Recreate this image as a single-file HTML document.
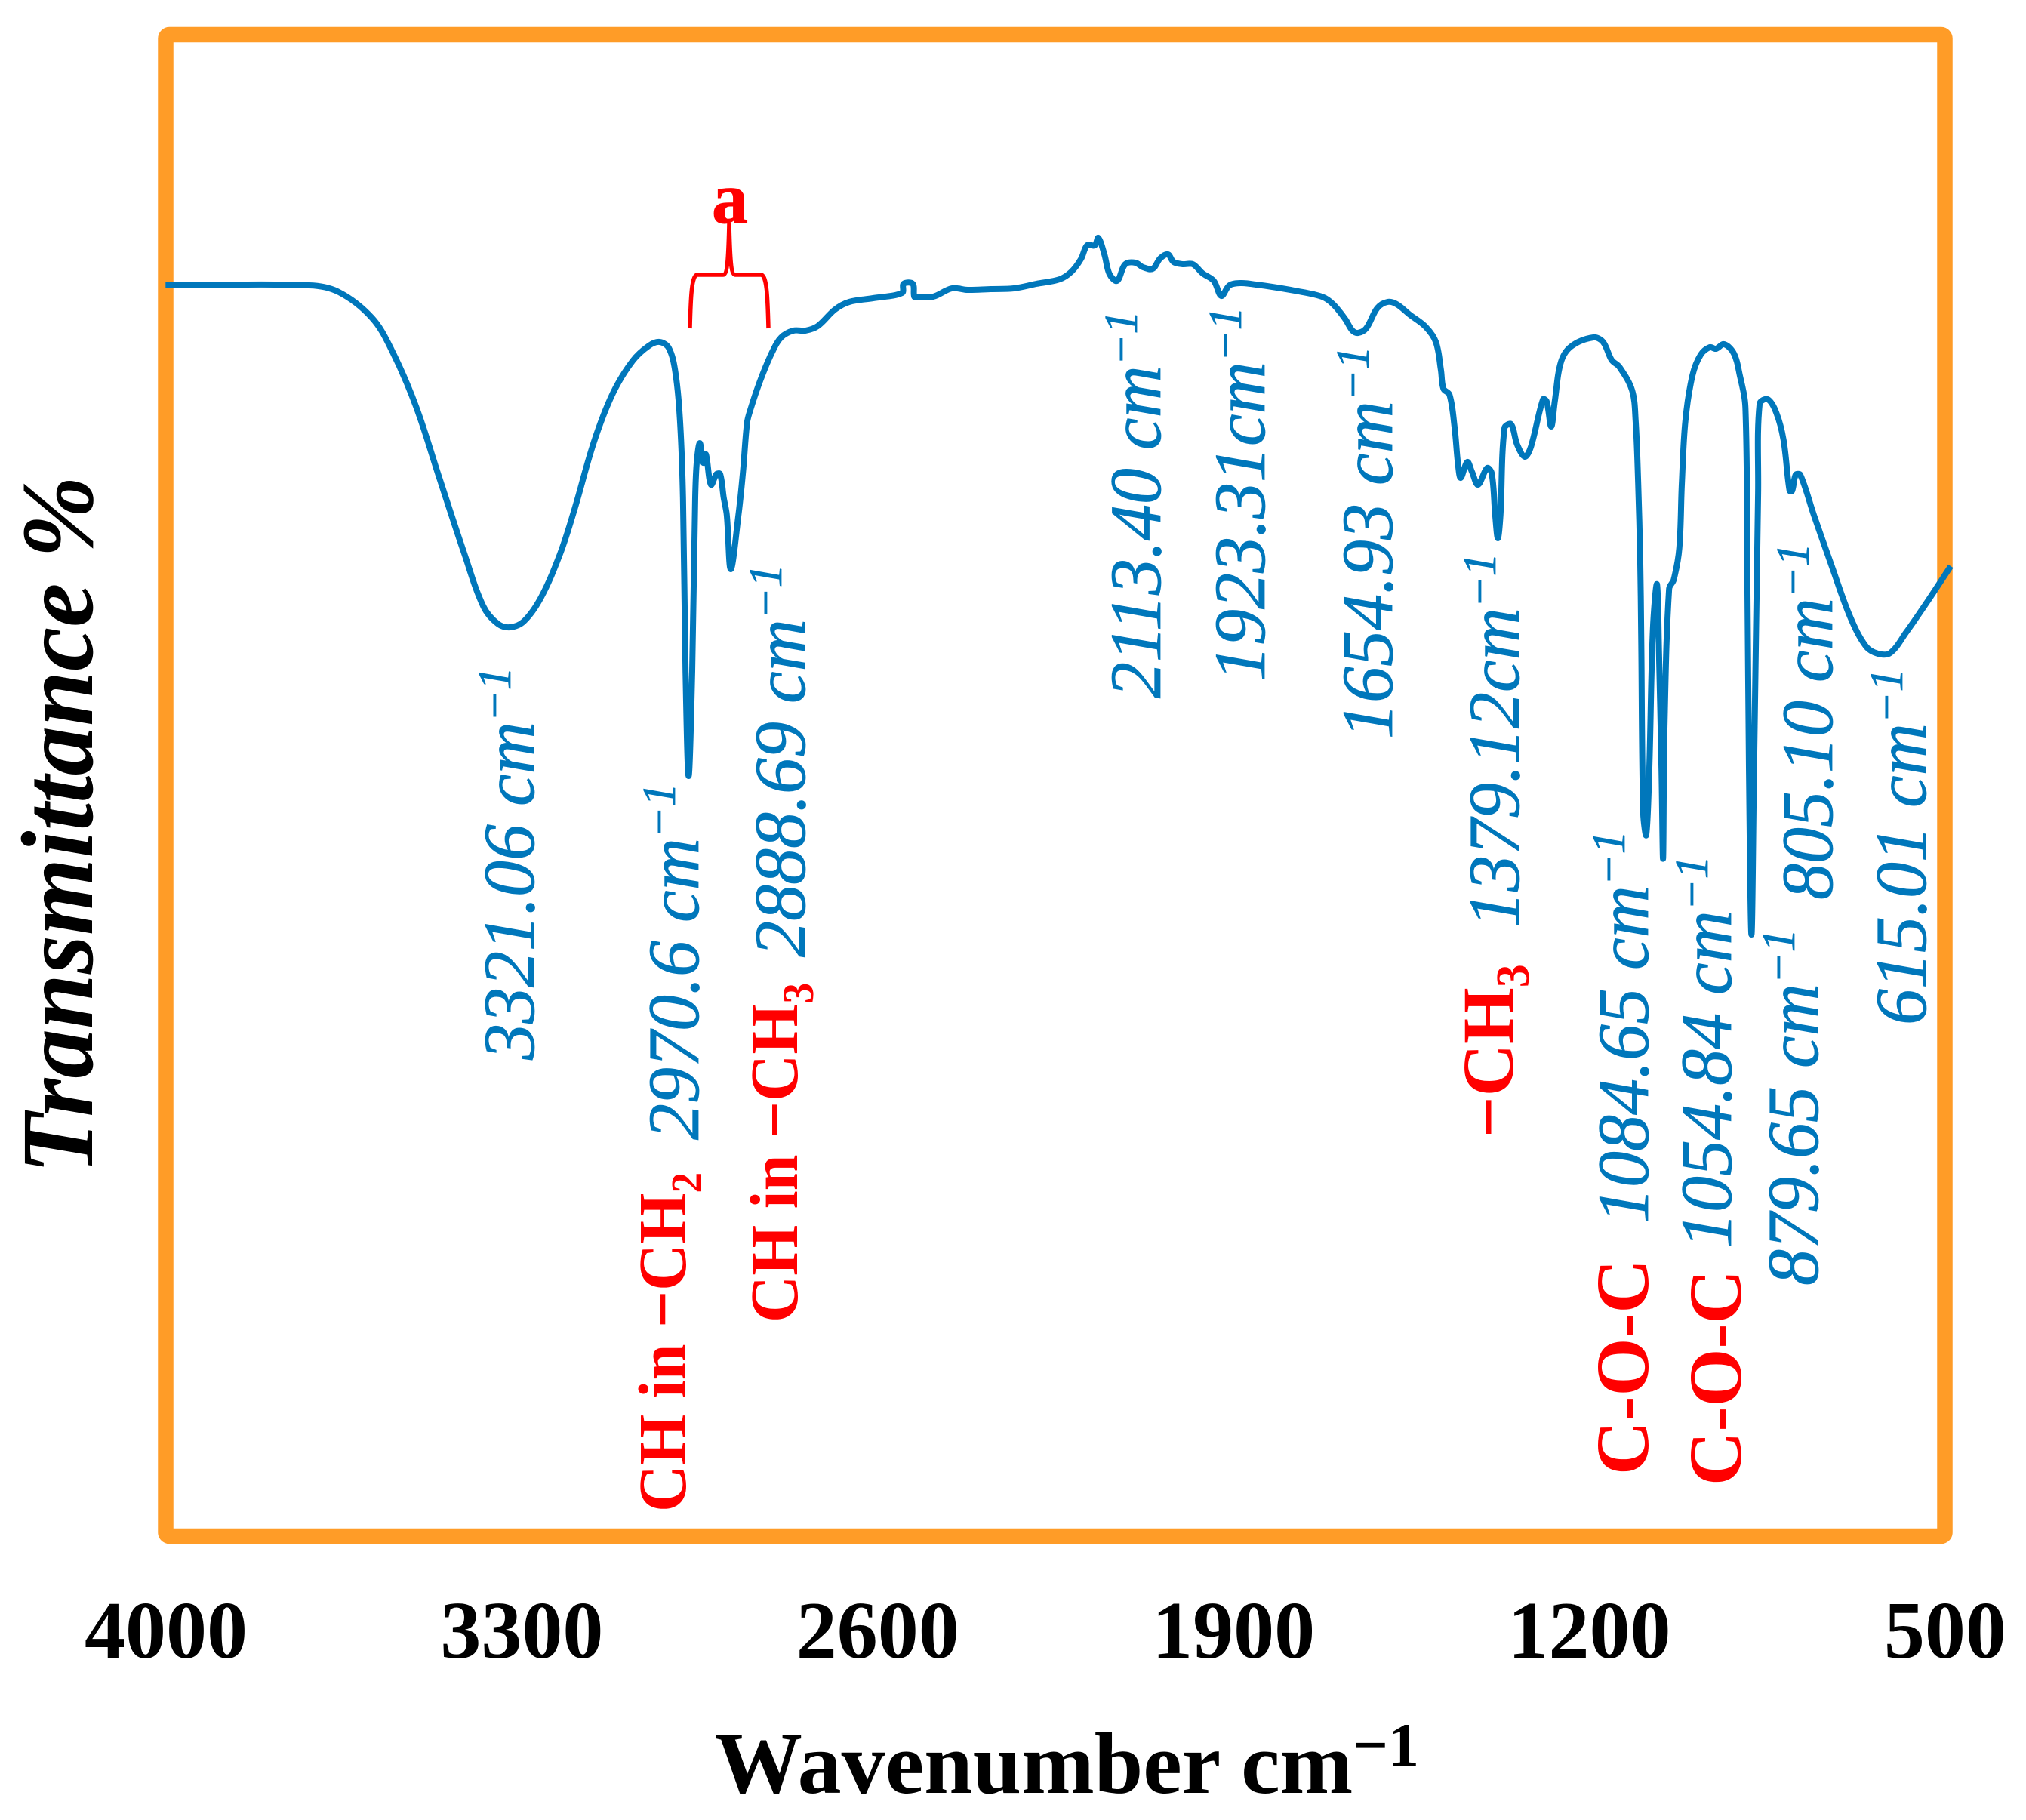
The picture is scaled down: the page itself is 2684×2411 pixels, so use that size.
<!DOCTYPE html>
<html lang="en">
<head>
<meta charset="utf-8">
<title>FTIR transmittance spectrum</title>
<style>
html,body{margin:0;padding:0;background:#fff;}
svg{display:block;}
text{font-family:"Liberation Serif",serif;}
.peak{font-size:96px;font-style:italic;fill:#0077bb;stroke:#0077bb;stroke-width:.8px;}
.sup{font-size:62px;}
.group{font-weight:bold;fill:#ff0000;}
.tick{font-size:108px;font-weight:bold;fill:#000;text-anchor:middle;}
</style>
</head>
<body>
<svg id="chart" xmlns="http://www.w3.org/2000/svg" width="2684" height="2411" viewBox="0 0 2684 2411">
  <rect x="0" y="0" width="2684" height="2411" fill="#ffffff"/>
  <rect x="219.5" y="46" width="2357" height="1989" rx="5" fill="#ffffff" stroke="#ff9c27" stroke-width="20.5"/>
  <g id="series-layer"></g>
  <g id="tick-layer"></g>

  <path d="M914 435 C915 395 916 364 924 364 L958 364 C964 364 965 340 966 295 C967 340 968 364 974 364 L1008 364 C1016 364 1017 395 1018 435" fill="none" stroke="#ff0000" stroke-width="5.5"/>
  <text class="group" x="967" y="295" font-size="96" text-anchor="middle" stroke="#ff0000" stroke-width="1">a</text>

  <text class="peak" transform="translate(707,1404) rotate(-90)">3321.06 cm<tspan class="sup" dy="-31">−1</tspan></text>
  <text class="peak" transform="translate(925,1510) rotate(-90)">2970.6 cm<tspan class="sup" dy="-31">−1</tspan></text>
  <text class="peak" transform="translate(1066,1268) rotate(-90)">2888.69 cm<tspan class="sup" dy="-31">−1</tspan></text>
  <text class="peak" transform="translate(1537,925) rotate(-90)">2113.40 cm<tspan class="sup" dy="-31">−1</tspan></text>
  <text class="peak" transform="translate(1675,903) rotate(-90)">1923.31cm<tspan class="sup" dy="-31">−1</tspan></text>
  <text class="peak" transform="translate(1844,979) rotate(-90)">1654.93 cm<tspan class="sup" dy="-31">−1</tspan></text>
  <text class="peak" transform="translate(2012,1229) rotate(-90)">1379.12cm<tspan class="sup" dy="-31">−1</tspan></text>
  <text class="peak" transform="translate(2183,1621) rotate(-90)">1084.65 cm<tspan class="sup" dy="-31">−1</tspan></text>
  <text class="peak" transform="translate(2293,1654) rotate(-90)">1054.84 cm<tspan class="sup" dy="-31">−1</tspan></text>
  <text class="peak" transform="translate(2408,1703) rotate(-90)">879.65 cm<tspan class="sup" dy="-31">−1</tspan></text>
  <text class="peak" transform="translate(2427,1192) rotate(-90)">805.10 cm<tspan class="sup" dy="-31">−1</tspan></text>
  <text class="peak" transform="translate(2551,1358) rotate(-90)">615.01 cm<tspan class="sup" dy="-31">−1</tspan></text>

  <text class="group" font-size="90" transform="translate(908,2003) rotate(-90) scale(.957,1)">CH in −CH<tspan font-size="58" dy="21">2</tspan></text>
  <text class="group" font-size="90" transform="translate(1056,1752) rotate(-90) scale(.957,1)">CH in −CH<tspan font-size="58" dy="21">3</tspan></text>
  <text class="group" font-size="96" transform="translate(2004,1507) rotate(-90) scale(1,1)">−CH<tspan font-size="62" dy="21">3</tspan></text>
  <text class="group" font-size="100" transform="translate(2183,1954) rotate(-90) scale(.99,1)">C-O-C</text>
  <text class="group" font-size="100" transform="translate(2306,1968) rotate(-90) scale(.99,1)">C-O-C</text>

  <text font-size="136" font-weight="bold" font-style="italic" fill="#000" transform="translate(122,1555) rotate(-90) scale(.965,1)">Transmittance %</text>
  <text font-size="116" font-weight="bold" fill="#000" x="947" y="2375">Wavenumber cm<tspan font-size="82" dy="-36">−1</tspan></text>
</svg>
<script>
const tickValues = [4000, 3300, 2600, 1900, 1200, 500];
const wavenumbers = [4001,3718,3660,3595,3556,3508,3461,3413,3376,3348,3324,3296,3262,3225,3197,3158,3121,3082,3050,3029,3011,2998,2989,2983,2978,2972,2965,2959,2956,2950,2943,2938,2928,2917,2910,2903,2897,2889,2874,2865,2857,2851,2831,2808,2790,2766,2742,2718,2684,2656,2609,2552,2549,2531,2528,2522,2491,2454,2423,2378,2332,2288,2242,2219,2200,2188,2173,2166,2154,2144,2129,2113,2093,2078,2059,2044,2029,2018,2000,1980,1961,1939,1924,1908,1885,1856,1824,1780,1726,1704,1680,1666,1655,1639,1617,1597,1579,1553,1522,1502,1492,1487,1475,1465,1458,1453,1440,1431,1419,1401,1392,1385,1380,1375,1367,1354,1342,1327,1315,1291,1284,1275,1268,1256,1236,1192,1173,1156,1141,1116,1109,1104,1100,1098,1094,1088,1082,1075,1067,1063,1058,1055,1052,1043,1034,1023,1018,1011,997,981,963,951,935,916,904,893,889,886,881,876,868,865,849,832,818,806,801,794,785,758,723,687,656,632,608,577,530,489];
const transmittance = [82.6,82.6,82.15,80.45,78.3,74.55,69.7,64.8,61.35,60.2,59.95,60.35,61.95,64.8,67.7,72.25,75.45,77.6,78.6,78.85,78.45,76.85,73.7,68.55,57.05,50.1,57.05,68.55,70.85,72.15,70.85,71.4,69.4,70.1,70.1,68.55,67.4,63.8,67.35,70.25,73.5,74.3,76.3,78.15,79.15,79.6,79.6,79.9,81,81.5,81.75,82.1,82.7,82.7,81.85,81.85,81.85,82.4,82.3,82.35,82.4,82.7,83,83.5,84.35,85.25,85.25,85.75,84.65,83.35,82.9,84,84.1,83.8,83.7,84.4,84.65,84.15,84,84,83.4,82.9,81.9,82.6,82.75,82.65,82.5,82.25,81.85,81.35,80.35,79.6,79.45,79.75,81.1,81.5,81.35,80.65,79.85,78.85,77,75.75,75.35,73.15,70.65,69.85,70.9,70.25,69.4,70.5,70.15,67.35,65.85,67.35,73.15,73.4,72.05,71.25,71.9,75.05,74.9,73.25,74.9,77.5,78.55,79.15,78.85,77.65,77.2,75.65,73.65,69.5,64.5,59.5,47.65,46.2,50.65,59.75,62.8,58.25,50.65,44.65,53.7,62.5,63.1,65.2,69.5,73.65,76.65,78,78.5,78.4,78.7,78.1,76.65,74.5,62.85,50.65,39.6,50.65,68.85,74.75,75.05,74.15,72.35,69,69,70.05,70.05,67.35,64,60.65,58.7,58.2,58.25,59.6,61.9,64];

function xScale(w) { return 220 + (4000 - w) * 0.6734; }
function yScale(t) { return 2030 - 20 * t; }

const svgNS = 'http://www.w3.org/2000/svg';
const seriesLayer = document.getElementById('series-layer');
const tickLayer = document.getElementById('tick-layer');

function smoothPath(pts) {
  const k = 0.35;
  let d = 'M' + pts[0][0].toFixed(1) + ' ' + pts[0][1].toFixed(1);
  function len(a, b) { return Math.hypot(a[0] - b[0], a[1] - b[1]) || 1; }
  for (let i = 0; i < pts.length - 1; i++) {
    const p0 = pts[Math.max(i - 1, 0)];
    const p1 = pts[i];
    const p2 = pts[i + 1];
    const p3 = pts[Math.min(i + 2, pts.length - 1)];
    const seg = len(p1, p2);
    const f1 = k * seg / (len(p0, p1) + seg);
    const f2 = k * seg / (seg + len(p2, p3));
    const c1x = p1[0] + (p2[0] - p0[0]) * f1;
    const c1y = p1[1] + (p2[1] - p0[1]) * f1;
    const c2x = p2[0] - (p3[0] - p1[0]) * f2;
    const c2y = p2[1] - (p3[1] - p1[1]) * f2;
    d += ' C' + c1x.toFixed(1) + ' ' + c1y.toFixed(1) + ' ' + c2x.toFixed(1) + ' ' + c2y.toFixed(1) + ' ' + p2[0].toFixed(1) + ' ' + p2[1].toFixed(1);
  }
  return d;
}

const spectrum = document.createElementNS(svgNS, 'path');


spectrum.setAttribute('d', smoothPath(wavenumbers.map(function (w, i) {
  return [xScale(w), yScale(transmittance[i])];
})));
spectrum.setAttribute('fill', 'none');
spectrum.setAttribute('stroke', '#0077bb');
spectrum.setAttribute('stroke-width', '8');
spectrum.setAttribute('stroke-linejoin', 'round');
spectrum.setAttribute('stroke-linecap', 'butt');
seriesLayer.appendChild(spectrum);

tickValues.forEach(function (v) {
  const label = document.createElementNS(svgNS, 'text');
  
  
  label.setAttribute('class', 'tick');
  label.setAttribute('x', xScale(v));
  label.setAttribute('y', 2196);
  label.textContent = String(v);
  tickLayer.appendChild(label);
});
</script>
</body>
</html>
